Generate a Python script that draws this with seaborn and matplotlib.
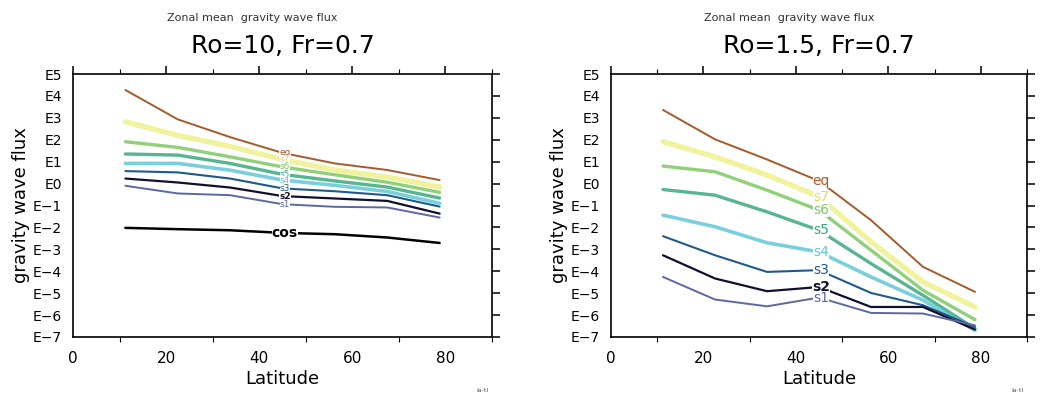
import numpy as np
import pandas as pd
import seaborn as sns
import matplotlib.pyplot as plt
from matplotlib.ticker import MultipleLocator

# latitudes of the zonal-mean points
LAT = [11.25, 22.5, 33.75, 45.0, 56.25, 67.5, 78.75]

# log10 of the flux, Ro=10, Fr=0.7
RO10_EQ = [4.27, 2.93, 2.12, 1.40, 0.92, 0.62, 0.16]
RO10_S7 = [2.82, 2.20, 1.70, 1.10, 0.62, 0.30, -0.15]
RO10_S6 = [1.91, 1.65, 1.22, 0.76, 0.40, 0.06, -0.40]
RO10_S5 = [1.35, 1.30, 0.92, 0.42, 0.12, -0.16, -0.66]
RO10_S4 = [0.92, 0.92, 0.61, 0.16, -0.08, -0.36, -0.90]
RO10_S3 = [0.57, 0.51, 0.23, -0.22, -0.35, -0.53, -1.05]
RO10_S2 = [0.23, 0.05, -0.18, -0.57, -0.68, -0.79, -1.37]
RO10_S1 = [-0.10, -0.45, -0.53, -0.94, -1.06, -1.09, -1.55]
RO10_COS = [-2.02, -2.08, -2.13, -2.25, -2.31, -2.46, -2.71]

# log10 of the flux, Ro=1.5, Fr=0.7
RO15_EQ = [3.36, 2.02, 1.10, 0.12, -1.67, -3.80, -4.94]
RO15_S7 = [1.91, 1.22, 0.39, -0.60, -2.66, -4.49, -5.63]
RO15_S6 = [0.80, 0.54, -0.30, -1.21, -3.04, -4.87, -6.21]
RO15_S5 = [-0.27, -0.53, -1.29, -2.13, -3.65, -5.10, -6.62]
RO15_S4 = [-1.44, -1.97, -2.70, -3.12, -4.26, -5.32, -6.70]
RO15_S3 = [-2.40, -3.27, -4.03, -3.95, -4.99, -5.55, -6.54]
RO15_S2 = [-3.27, -4.33, -4.91, -4.72, -5.63, -5.63, -6.66]
RO15_S1 = [-4.26, -5.29, -5.60, -5.20, -5.90, -5.93, -6.47]

SERIES = ["eq", "s7", "s6", "s5", "s4", "s3", "s2", "s1", "cos"]
COLORS = {
    "eq": "#a65a2a", "s7": "#eef08c", "s6": "#7cc862", "s5": "#3aa87c",
    "s4": "#62c8d6", "s3": "#1f5a8c", "s2": "#10102e", "s1": "#5a68a6",
    "cos": "#000000",
}
WIDTHS = {"eq": 1.4, "s7": 3.8, "s6": 2.4, "s5": 2.4, "s4": 2.6,
          "s3": 1.5, "s2": 1.6, "s1": 1.4, "cos": 1.8}

PANELS = [
    ("Ro=10, Fr=0.7", [RO10_EQ, RO10_S7, RO10_S6, RO10_S5, RO10_S4,
                       RO10_S3, RO10_S2, RO10_S1, RO10_COS], 6.5),
    ("Ro=1.5, Fr=0.7", [RO15_EQ, RO15_S7, RO15_S6, RO15_S5, RO15_S4,
                        RO15_S3, RO15_S2, RO15_S1], 10),
]

sns.set_style("white")
plt.rcParams["font.family"] = ["DejaVu Sans"]
plt.rcParams["text.color"] = "black"
plt.rcParams["axes.labelcolor"] = "black"
plt.rcParams["xtick.color"] = "black"
plt.rcParams["ytick.color"] = "black"

W, H = 1044, 397
fig = plt.figure(figsize=(W / 100, H / 100), dpi=100)

# axes boxes in pixels: left, top, right, bottom
boxes = [(73, 74, 492, 337), (611, 74, 1027, 337)]

for (title, values, lab_fs), (l, t, r, b) in zip(PANELS, boxes):
    ax = fig.add_axes([l / W, 1 - b / H, (r - l) / W, (b - t) / H])
    rows = []
    for name, vals in zip(SERIES, values):
        for x, v in zip(LAT, vals):
            rows.append({"lat": x, "flux": v, "series": name})
    df = pd.DataFrame(rows)

    for name in SERIES[:len(values)]:
        sub = df[df["series"] == name]
        alpha = 0.85 if name in ("s7", "s6", "s5", "s4") else 1.0
        sns.lineplot(data=sub, x="lat", y="flux", ax=ax, color=COLORS[name],
                     lw=WIDTHS[name], alpha=alpha, legend=False)
        y45 = sub["flux"].iloc[3]
        fs = 10 if name == "cos" else lab_fs
        ax.text(45.5, y45, name,
                color=COLORS[name] if name != "s7" else "#e2dc5a",
                fontsize=fs, ha="center", va="center",
                fontweight="bold" if name in ("cos", "s2") else "normal",
                bbox=dict(boxstyle="square,pad=0.0", fc="white", ec="none"),
                zorder=5)

    ax.set_xlim(0, 90)
    ax.set_ylim(-7, 5)
    ax.xaxis.set_major_locator(MultipleLocator(20))
    ax.xaxis.set_minor_locator(MultipleLocator(10))
    ax.set_yticks(range(-7, 6))
    ax.set_yticklabels([f"E{v}".replace("-", "\u2212") for v in range(-7, 6)])
    ax.set_xticks([0, 20, 40, 60, 80])
    ax.set_xlabel("Latitude", fontsize=13, labelpad=3)
    ax.set_ylabel("gravity wave flux", fontsize=13, labelpad=2)
    ax.tick_params(axis="both", which="major", direction="out", length=6,
                   width=1.1, labelsize=10, top=True, right=True)
    ax.tick_params(axis="x", which="minor", direction="out", length=3.5,
                   width=0.8, top=True, bottom=True)
    ax.tick_params(axis="y", which="major", pad=2)
    ax.tick_params(axis="x", which="major", labelsize=11, pad=4)
    for sp in ax.spines.values():
        sp.set_color("black")
        sp.set_linewidth(1.2)

    cx = (l + r) / 2
    fig.text((cx - 30) / W, 1 - 18 / H, "Zonal mean  gravity wave flux",
             fontsize=8, ha="center", va="center", color="#333333")
    fig.text(cx / W, 1 - 46 / H, title, fontsize=18, ha="center",
             va="center")
    fig.text((r - 10) / W, 1 - 391 / H, "la-tl", fontsize=4.5, ha="center",
             va="center", color="#555555")

fig.savefig("out.png", dpi=100)
